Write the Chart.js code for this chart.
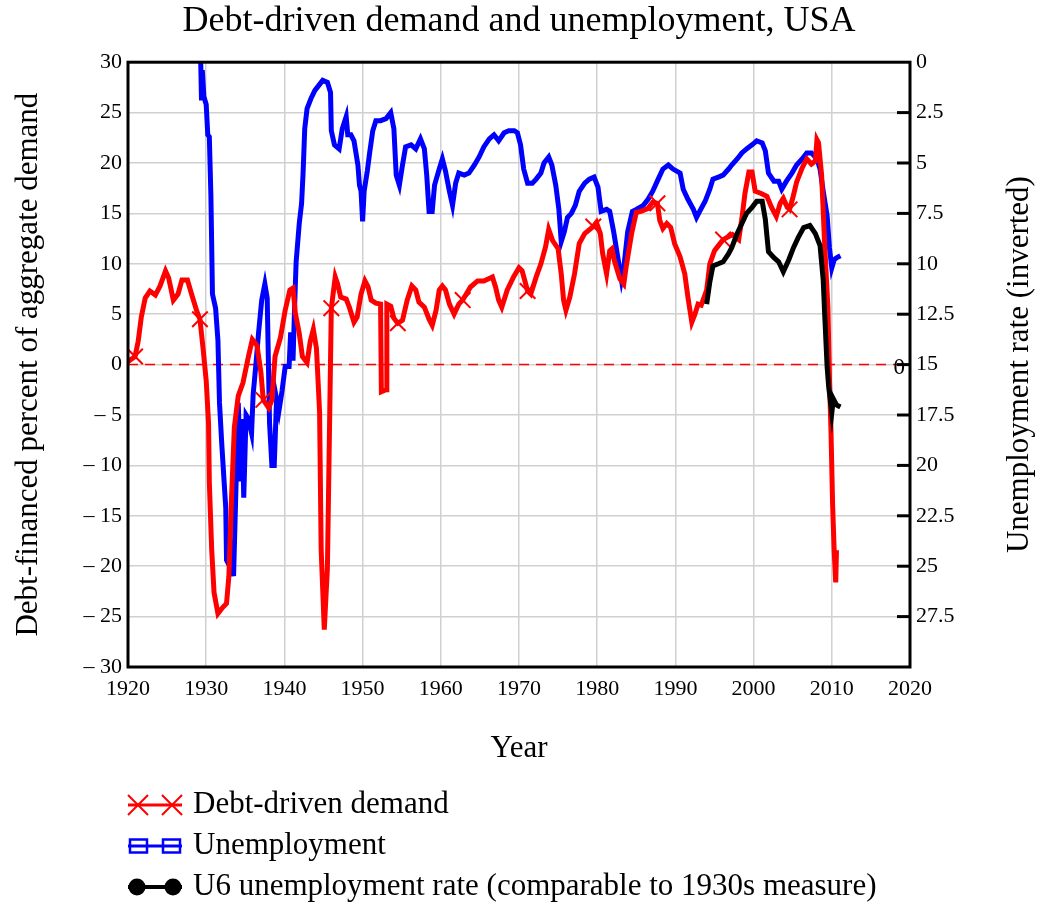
<!DOCTYPE html>
<html>
<head>
<meta charset="utf-8">
<script src="https://cdn.jsdelivr.net/npm/chart.js@4.4.0/dist/chart.umd.min.js"></script>
<style>
  body { margin: 0; background: #fff; }
  #wrap { width: 1038px; height: 905px; }
</style>
</head>
<body>
<div id="wrap"><canvas id="chart" width="1038" height="905"></canvas></div>
<script>
// debt-driven demand, % of aggregate demand (left axis)
var debtYears = [1920.0, 1920.9, 1921.3, 1921.7, 1922.2, 1922.8, 1923.5, 1924.1, 1924.8, 1925.2, 1925.8, 1926.4, 1926.9, 1927.6, 1928.2, 1928.8, 1929.2, 1929.6, 1930.0, 1930.3, 1930.4, 1930.7, 1931.0, 1931.5, 1932.1, 1932.6, 1932.9, 1933.2, 1933.6, 1934.1, 1934.7, 1935.4, 1935.9, 1936.5, 1937.0, 1937.3, 1938.0, 1938.4, 1938.8, 1939.5, 1940.1, 1940.7, 1941.1, 1941.4, 1941.9, 1942.3, 1942.9, 1943.3, 1943.7, 1944.1, 1944.5, 1944.7, 1945.1, 1945.5, 1945.8, 1946.0, 1946.5, 1946.8, 1947.2, 1947.9, 1948.3, 1948.9, 1949.3, 1949.8, 1950.3, 1950.7, 1951.1, 1951.7, 1952.3, 1952.4, 1953.0, 1953.1, 1953.6, 1954.0, 1954.5, 1955.1, 1955.7, 1956.3, 1956.8, 1957.2, 1957.9, 1958.5, 1958.9, 1959.4, 1959.8, 1960.2, 1960.6, 1961.1, 1961.7, 1962.3, 1962.8, 1963.8, 1964.7, 1965.5, 1966.6, 1967.0, 1967.4, 1967.8, 1968.5, 1969.3, 1970.0, 1970.4, 1971.1, 1971.5, 1972.2, 1972.8, 1973.4, 1973.8, 1974.3, 1975.0, 1975.4, 1975.7, 1976.0, 1976.5, 1977.1, 1977.7, 1978.4, 1979.5, 1979.9, 1980.4, 1980.7, 1981.2, 1981.6, 1981.9, 1982.2, 1982.9, 1983.4, 1983.7, 1984.4, 1985.0, 1985.6, 1986.5, 1987.1, 1987.7, 1988.0, 1988.4, 1988.9, 1989.4, 1989.9, 1990.6, 1991.2, 1991.6, 1992.1, 1992.5, 1992.9, 1993.3, 1994.0, 1994.4, 1995.0, 1995.7, 1996.1, 1997.3, 1998.1, 1998.5, 1998.9, 1999.4, 1999.8, 2000.2, 2000.9, 2001.7, 2002.3, 2002.9, 2003.4, 2003.8, 2004.3, 2004.6, 2005.0, 2005.5, 2006.2, 2006.8, 2007.4, 2007.9, 2008.1, 2008.3, 2008.7, 2009.1, 2009.5, 2009.7, 2009.9, 2010.1, 2010.3, 2010.5, 2010.6];
var debtValues = [0.3, 0.8, 2.3, 4.7, 6.6, 7.3, 6.9, 7.8, 9.3, 8.6, 6.4, 7.0, 8.4, 8.4, 6.8, 5.3, 4.5, 1.6, -1.6, -5.8, -11.7, -18.3, -22.6, -24.7, -24.1, -23.7, -21.0, -14.0, -6.2, -3.1, -1.8, 0.8, 2.5, 1.9, -0.8, -3.5, -4.3, -3.5, 0.8, 2.7, 5.4, 7.4, 7.6, 5.1, 3.1, 0.8, 0.2, 2.3, 3.5, 1.6, -4.7, -18.3, -26.3, -20.2, -4.7, 5.6, 8.7, 8.0, 6.7, 6.5, 5.7, 4.2, 4.7, 7.0, 8.3, 7.7, 6.4, 6.1, 6.0, -2.7, -2.5, 6.0, 5.8, 4.6, 4.1, 4.4, 6.4, 7.8, 7.4, 6.2, 5.7, 4.5, 3.9, 5.4, 7.4, 7.8, 7.4, 6.0, 5.0, 6.0, 6.4, 7.7, 8.3, 8.3, 8.7, 7.7, 6.4, 5.7, 7.4, 8.7, 9.6, 9.3, 7.3, 7.0, 8.7, 10.0, 11.7, 13.4, 12.3, 11.5, 9.0, 6.4, 5.4, 6.7, 9.0, 12.0, 13.0, 13.7, 14.1, 13.0, 11.0, 9.0, 11.3, 11.5, 10.3, 8.5, 8.0, 9.7, 13.0, 15.1, 15.2, 15.5, 16.1, 16.0, 14.3, 13.5, 14.0, 13.6, 12.0, 10.7, 9.0, 6.7, 4.2, 5.0, 6.0, 5.9, 7.4, 10.0, 11.3, 12.0, 12.4, 12.9, 12.4, 14.5, 17.0, 19.1, 19.1, 17.2, 17.0, 16.7, 15.6, 14.7, 16.0, 16.5, 15.6, 15.4, 16.5, 18.1, 19.5, 20.4, 19.9, 20.2, 22.3, 22.0, 18.8, 11.7, 5.7, -1.4, -6.7, -13.8, -18.4, -21.6, -18.4];
var debtMarkerYears = [1920.9, 1929.2, 1937.3, 1946.0, 1954.5, 1962.8, 1971.1, 1979.5, 1987.7, 1996.1, 2004.6];

// unemployment rate, % (right axis, inverted)
var unempYears = [1929.3, 1929.4, 1929.5, 1929.7, 1930.0, 1930.2, 1930.4, 1930.6, 1930.8, 1931.2, 1931.5, 1931.7, 1932.0, 1932.5, 1932.6, 1933.0, 1933.2, 1933.5, 1933.8, 1934.1, 1934.4, 1934.6, 1934.8, 1935.1, 1935.4, 1935.8, 1936.0, 1936.4, 1936.7, 1937.1, 1937.5, 1937.8, 1938.1, 1938.4, 1938.7, 1939.0, 1939.3, 1939.7, 1940.1, 1940.6, 1940.8, 1941.1, 1941.3, 1941.5, 1941.9, 1942.2, 1942.4, 1942.6, 1942.9, 1943.4, 1943.9, 1944.5, 1944.9, 1945.5, 1945.9, 1946.0, 1946.4, 1947.0, 1947.4, 1947.9, 1948.1, 1948.5, 1948.9, 1949.4, 1949.6, 1949.8, 1950.0, 1950.2, 1950.6, 1950.9, 1951.3, 1951.7, 1952.3, 1953.0, 1953.6, 1954.0, 1954.3, 1954.7, 1955.1, 1955.5, 1956.2, 1956.8, 1957.4, 1957.9, 1958.2, 1958.5, 1958.9, 1959.2, 1959.8, 1960.2, 1960.6, 1961.1, 1961.5, 1961.9, 1962.3, 1963.0, 1963.6, 1964.3, 1964.9, 1965.5, 1966.2, 1966.8, 1967.4, 1968.1, 1968.7, 1969.4, 1969.8, 1970.2, 1970.6, 1971.1, 1971.7, 1972.2, 1972.8, 1973.2, 1973.8, 1974.2, 1974.7, 1975.1, 1975.4, 1975.8, 1976.2, 1976.7, 1977.2, 1977.7, 1978.4, 1979.0, 1979.6, 1980.1, 1980.5, 1981.2, 1981.6, 1982.1, 1982.6, 1983.1, 1983.4, 1983.9, 1984.5, 1985.0, 1985.9, 1986.5, 1987.1, 1987.8, 1988.4, 1989.1, 1989.7, 1990.6, 1991.0, 1991.6, 1992.3, 1992.7, 1993.1, 1993.8, 1994.4, 1994.8, 1995.5, 1996.1, 1996.8, 1997.2, 1997.9, 1998.5, 1999.1, 1999.8, 2000.4, 2001.1, 2001.5, 2001.9, 2002.6, 2003.2, 2003.6, 2004.2, 2004.9, 2005.5, 2006.2, 2006.8, 2007.4, 2008.1, 2008.5, 2008.9, 2009.4, 2009.7, 2010.0, 2010.3, 2010.6, 2011.1];
var unempValues = [0.0, 1.9, 0.4, 1.7, 2.1, 3.6, 3.7, 6.6, 11.5, 12.2, 13.8, 16.9, 19.0, 22.1, 24.7, 25.0, 23.7, 25.5, 21.2, 16.9, 20.8, 17.7, 21.6, 17.5, 17.7, 18.4, 16.5, 14.8, 13.4, 11.8, 11.0, 11.7, 17.9, 20.0, 20.0, 16.7, 17.3, 16.3, 15.1, 15.1, 13.4, 14.8, 12.2, 9.9, 8.0, 7.0, 5.4, 3.3, 2.3, 1.8, 1.4, 1.1, 0.9, 1.0, 1.5, 3.4, 4.1, 4.3, 3.3, 2.7, 3.6, 3.6, 3.9, 5.1, 6.1, 6.4, 7.9, 6.4, 5.4, 4.5, 3.4, 2.9, 2.9, 2.8, 2.5, 3.3, 5.6, 6.1, 5.1, 4.2, 4.1, 4.3, 3.8, 4.3, 5.6, 7.4, 7.4, 6.1, 5.3, 4.8, 5.4, 6.4, 7.1, 6.0, 5.5, 5.6, 5.5, 5.1, 4.7, 4.2, 3.8, 3.6, 3.9, 3.5, 3.4, 3.4, 3.5, 4.1, 5.3, 6.0, 6.0, 5.8, 5.5, 5.0, 4.7, 5.1, 6.1, 7.3, 8.9, 8.4, 7.7, 7.5, 7.1, 6.4, 6.0, 5.8, 5.7, 6.2, 7.4, 7.3, 7.4, 8.4, 9.6, 10.8, 10.2, 8.4, 7.4, 7.3, 7.1, 6.8, 6.4, 5.8, 5.3, 5.1, 5.3, 5.5, 6.3, 6.8, 7.3, 7.7, 7.4, 6.9, 6.3, 5.8, 5.7, 5.6, 5.3, 5.1, 4.8, 4.5, 4.3, 4.1, 3.9, 4.0, 4.4, 5.5, 5.9, 5.9, 6.3, 5.9, 5.5, 5.1, 4.8, 4.5, 4.5, 4.8, 5.3, 6.4, 7.6, 9.2, 10.2, 9.8, 9.7, 9.6];

// U6 unemployment rate, % (right axis, inverted)
var u6Years = [1994.0, 1994.4, 1994.8, 1995.5, 1996.1, 1996.8, 1997.2, 1997.9, 1998.5, 1999.1, 1999.8, 2000.4, 2001.1, 2001.5, 2001.9, 2002.6, 2003.2, 2003.8, 2004.5, 2005.1, 2005.7, 2006.4, 2007.2, 2007.9, 2008.5, 2008.9, 2009.1, 2009.4, 2009.6, 2010.0, 2010.2, 2010.6, 2011.1];
var u6Values = [12.0, 10.9, 10.1, 10.0, 9.9, 9.5, 9.2, 8.5, 8.0, 7.5, 7.2, 6.9, 6.9, 7.8, 9.4, 9.7, 9.9, 10.4, 9.8, 9.2, 8.7, 8.2, 8.1, 8.5, 9.1, 10.8, 12.6, 15.1, 16.1, 17.4, 16.7, 17.0, 17.1];

var legendLabels = ['Debt-driven demand', 'Unemployment', 'U6 unemployment rate (comparable to 1930s measure)'];
var chartTitle = 'Debt-driven demand and unemployment, USA';
var serif = '"Liberation Serif", "Times New Roman", serif';

function toPoints(xs, ys) {
    var pts = [];
    for (var i = 0; i < xs.length; i++) pts.push({x: xs[i], y: ys[i]});
    return pts;
}

function fixWidth(w) { return function(scale){ scale.width = w; }; }

var decor = {
    id: 'decor',
    afterDraw: function(chart) {
        var ctx = chart.ctx, a = chart.chartArea;
        var yl = chart.scales.y, yr = chart.scales.y2;
        ctx.save();

        // inward tick marks on right axis
        ctx.strokeStyle = '#000';
        ctx.lineWidth = 3;
        yr.ticks.forEach(function(t){
            if (t.value <= 0 || t.value >= 30) return;
            var py = yr.getPixelForValue(t.value);
            ctx.beginPath();
            ctx.moveTo(a.right - 13, py);
            ctx.lineTo(a.right, py);
            ctx.stroke();
        });

        // frame
        ctx.lineWidth = 3;
        ctx.strokeRect(a.left, a.top, a.right - a.left, a.bottom - a.top);

        // "0" label of the dashed zero line
        ctx.fillStyle = '#000';
        ctx.font = '23px ' + serif;
        ctx.textAlign = 'right';
        ctx.textBaseline = 'middle';
        ctx.fillText('0', a.right - 5, yl.getPixelForValue(0) + 3);

        // right axis title, reading upward
        ctx.font = '31px ' + serif;
        ctx.textAlign = 'center';
        ctx.translate(1020, (a.top + a.bottom) / 2);
        ctx.rotate(-Math.PI / 2);
        ctx.fillText('Unemployment rate (inverted)', 0, 0);
        ctx.restore();

        // legend
        ctx.save();
        var rows = [805, 846, 887];
        var x0 = 128, x1 = 182;
        // red crosses
        ctx.strokeStyle = 'red'; ctx.lineWidth = 3;
        ctx.beginPath(); ctx.moveTo(x0, rows[0]); ctx.lineTo(x1, rows[0]); ctx.stroke();
        ctx.lineWidth = 2;
        [138, 172].forEach(function(cx){
            ctx.beginPath();
            ctx.moveTo(cx - 10, rows[0] - 10); ctx.lineTo(cx + 10, rows[0] + 10);
            ctx.moveTo(cx - 10, rows[0] + 10); ctx.lineTo(cx + 10, rows[0] - 10);
            ctx.stroke();
        });
        // blue boxes
        ctx.strokeStyle = 'blue'; ctx.lineWidth = 3;
        ctx.beginPath(); ctx.moveTo(x0, rows[1]); ctx.lineTo(x1, rows[1]); ctx.stroke();
        ctx.lineWidth = 2.5;
        ctx.strokeRect(130, rows[1] - 6.5, 17, 13);
        ctx.strokeRect(163, rows[1] - 6.5, 17, 13);
        // black dots
        ctx.strokeStyle = '#000'; ctx.fillStyle = '#000'; ctx.lineWidth = 4;
        ctx.beginPath(); ctx.moveTo(x0, rows[2]); ctx.lineTo(x1, rows[2]); ctx.stroke();
        [137, 173].forEach(function(cx){
            ctx.beginPath(); ctx.arc(cx, rows[2], 8.5, 0, Math.PI * 2); ctx.fill();
        });
        ctx.font = '31px ' + serif;
        ctx.textAlign = 'left';
        ctx.textBaseline = 'middle';
        ctx.fillStyle = '#000';
        legendLabels.forEach(function(lbl, i){ ctx.fillText(lbl, 193, rows[i]); });
        ctx.restore();
    }
};

var ctx = document.getElementById('chart');
var chart = new Chart(ctx, {
    type: 'line',
    data: {
        datasets: [{
            label: 'U6',
            data: toPoints(u6Years, u6Values),
            yAxisID: 'y2',
            borderColor: '#000',
            borderWidth: 5,
            pointRadius: 0,
            order: 0
        }, {
            label: 'Debt-driven demand',
            data: toPoints(debtYears, debtValues),
            yAxisID: 'y',
            borderColor: 'red',
            borderWidth: 5,
            pointStyle: 'crossRot',
            pointRadius: function(c){ return (c.raw && debtMarkerYears.indexOf(c.raw.x) >= 0) ? 11 : 0; },
            pointBorderWidth: 2,
            pointBorderColor: 'red',
            pointBackgroundColor: 'red',
            order: 1
        }, {
            label: 'Unemployment',
            data: toPoints(unempYears, unempValues),
            yAxisID: 'y2',
            borderColor: 'blue',
            borderWidth: 5,
            pointRadius: 0,
            order: 2
        }, {
            label: 'zero',
            data: [{x: 1920, y: 0}, {x: 2020, y: 0}],
            yAxisID: 'y',
            borderColor: 'red',
            borderWidth: 1.5,
            borderDash: [10, 7],
            pointRadius: 0,
            order: 3
        }]
    },
    options: {
        responsive: false,
        animation: false,
        devicePixelRatio: 1,
        layout: { padding: { left: 0, right: 0, top: 0, bottom: 138 } },
        plugins: {
            legend: { display: false },
            tooltip: { enabled: false },
            title: {
                display: true,
                text: chartTitle,
                color: '#000',
                font: { family: serif, size: 36, weight: 'normal', lineHeight: 1.2 },
                padding: { top: 0, bottom: 19 }
            }
        },
        scales: {
            x: {
                type: 'linear',
                min: 1920, max: 2020,
                afterFit: function(s){ s.height = 100; },
                border: { display: false },
                grid: { color: '#d0d0d0', lineWidth: 1.5, drawTicks: false },
                ticks: {
                    stepSize: 10, color: '#000', padding: 9,
                    font: { family: serif, size: 22 },
                    callback: function(v){ return String(v); }
                },
                title: {
                    display: true, text: 'Year', color: '#000',
                    font: { family: serif, size: 31, lineHeight: 1.2 },
                    padding: { top: 0, bottom: 0 }
                }
            },
            y: {
                position: 'left',
                min: -30, max: 30,
                afterFit: fixWidth(128),
                border: { display: false },
                grid: { color: '#d0d0d0', lineWidth: 1.5, drawTicks: false },
                ticks: {
                    stepSize: 5, color: '#000', padding: 6,
                    font: { family: serif, size: 22 },
                    callback: function(v){ return v < 0 ? '\u2013 ' + Math.abs(v) : String(v); }
                },
                title: {
                    display: true, text: 'Debt-financed percent of aggregate demand', color: '#000',
                    font: { family: serif, size: 31, lineHeight: 1.2 },
                    padding: { top: 10, bottom: 0 }
                }
            },
            y2: {
                position: 'right',
                min: 0, max: 30,
                reverse: true,
                afterFit: fixWidth(128),
                border: { display: false },
                grid: { drawOnChartArea: false, drawTicks: false },
                ticks: {
                    stepSize: 2.5, color: '#000', padding: 6,
                    font: { family: serif, size: 22 },
                    callback: function(v){ return v >= 30 ? '' : String(v); }
                }
            }
        }
    },
    plugins: [decor]
});
</script>
</body>
</html>
